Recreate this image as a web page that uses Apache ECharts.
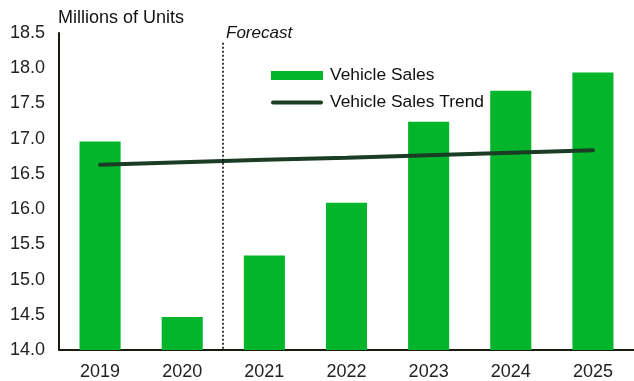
<!DOCTYPE html>
<html>
<head>
<meta charset="utf-8">
<script src="https://cdn.jsdelivr.net/npm/echarts@6/dist/echarts.min.js"></script>
<style>html,body{margin:0;padding:0;background:#fff}#c{width:634px;height:381px}</style>
</head>
<body>
<div id="c"></div>
<script>
const years = ['2019','2020','2021','2022','2023','2024','2025'];
const vehicleSales = [16.96, 14.47, 15.34, 16.09, 17.24, 17.68, 17.94];
const vehicleSalesTrend = [16.63, 16.665, 16.70, 16.73, 16.765, 16.80, 16.835];
const forecastBoundary = 1.49;
const forecastTop = 18.36;

const chart = echarts.init(document.getElementById('c'), null, {renderer: 'canvas'});
const font = '"Liberation Sans", Arial, sans-serif';
chart.setOption({
  animation: false,
  textStyle: {fontFamily: font},
  grid: {left: 59, top: 33, width: 585, height: 319},
  legend: {
    orient: 'vertical', left: 266, top: 62, itemGap: 10, itemWidth: 52, itemHeight: 9,
    textStyle: {fontSize: 17.4, color: '#111', fontFamily: font, padding: [0,0,0,2]},
    data: [
      {name: 'Vehicle Sales', icon: 'rect'},
      {name: 'Vehicle Sales Trend', icon: 'path://M2,0 L50,0 A2,2 0 0 1 50,4 L2,4 A2,2 0 0 1 2,0 Z', itemStyle: {color: '#1b3d26'}}
    ]
  },
  xAxis: [{
    type: 'category', data: years,
    axisLine: {lineStyle: {color: '#1a1a10', width: 2}},
    axisTick: {show: false},
    axisLabel: {fontSize: 18, color: '#222', margin: 13, fontFamily: font}
  }, {
    type: 'value', min: -0.5, max: 6.5, show: false
  }],
  yAxis: {
    type: 'value', min: 14, max: 18.5, interval: 0.5,
    name: 'Millions of Units', nameLocation: 'end', nameGap: 6,
    nameTextStyle: {fontSize: 18, color: '#111', align: 'left', padding: [0,0,0,-1], fontFamily: font},
    axisLine: {show: true, onZero: false, lineStyle: {color: '#1a1a10', width: 2}},
    axisTick: {show: false},
    splitLine: {show: false},
    axisLabel: {fontSize: 18, color: '#222', margin: 14, formatter: v => v.toFixed(1), fontFamily: font}
  },
  series: [{
    name: 'Vehicle Sales', type: 'bar', data: vehicleSales, barWidth: '50%',
    itemStyle: {color: '#02b52a'}
  }, {
    name: 'Vehicle Sales Trend', type: 'line', data: vehicleSalesTrend, symbol: 'none',
    lineStyle: {color: '#1b3d26', width: 4, cap: 'round'}, itemStyle: {color: '#1b3d26'}
  }, {
    name: 'forecast', type: 'line', xAxisIndex: 1, data: [], symbol: 'none',
    markLine: {
      silent: true, symbol: 'none', label: {show: false},
      lineStyle: {color: '#000', type: [2, 2], width: 1.5},
      data: [[{coord: [forecastBoundary, forecastTop]}, {coord: [forecastBoundary, 14]}]]
    }
  }],
  graphic: [{
    type: 'text', left: 226, top: 25,
    style: {text: 'Forecast', font: 'italic 17px ' + font, fill: '#111'}
  }]
});
</script>
</body>
</html>
